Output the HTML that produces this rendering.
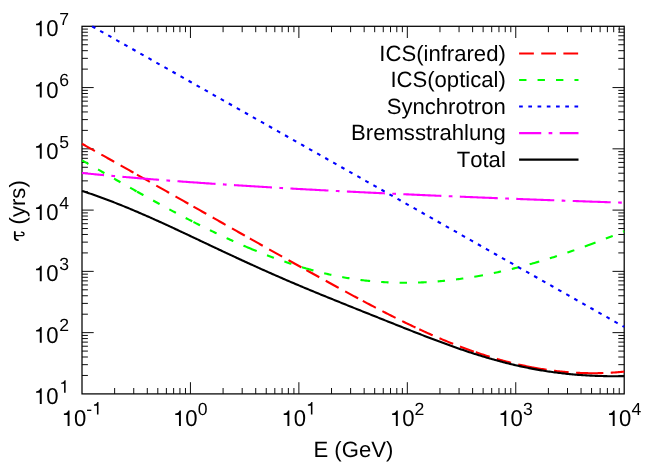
<!DOCTYPE html>
<html><head><meta charset="utf-8"><title>Cooling time</title>
<style>
html,body{margin:0;padding:0;background:#fff;overflow:hidden}
svg{display:block}
.t{filter:grayscale(1)}
.t,.t text{font-family:"Liberation Sans",sans-serif;font-kerning:none;font-variant-ligatures:none;text-rendering:geometricPrecision}
</style>
</head><body>
<svg width="664" height="465" viewBox="0 0 664 465">
<defs><path id="one" d="M359,0 H271 V-505 H102 V-568 C205,-574 268,-612 301,-709 H359 Z"/></defs>
<rect width="664" height="465" fill="#fff"/>
<path d="M114.64,393.90 v-5.90 M114.64,26.30 v5.90 M133.74,393.90 v-5.90 M133.74,26.30 v5.90 M147.29,393.90 v-5.90 M147.29,26.30 v5.90 M157.80,393.90 v-5.90 M157.80,26.30 v5.90 M166.38,393.90 v-5.90 M166.38,26.30 v5.90 M173.64,393.90 v-5.90 M173.64,26.30 v5.90 M179.93,393.90 v-5.90 M179.93,26.30 v5.90 M185.48,393.90 v-5.90 M185.48,26.30 v5.90 M190.44,393.90 v-11.70 M190.44,26.30 v11.70 M223.08,393.90 v-5.90 M223.08,26.30 v5.90 M242.18,393.90 v-5.90 M242.18,26.30 v5.90 M255.73,393.90 v-5.90 M255.73,26.30 v5.90 M266.24,393.90 v-5.90 M266.24,26.30 v5.90 M274.82,393.90 v-5.90 M274.82,26.30 v5.90 M282.08,393.90 v-5.90 M282.08,26.30 v5.90 M288.37,393.90 v-5.90 M288.37,26.30 v5.90 M293.92,393.90 v-5.90 M293.92,26.30 v5.90 M298.88,393.90 v-11.70 M298.88,26.30 v11.70 M331.52,393.90 v-5.90 M331.52,26.30 v5.90 M350.62,393.90 v-5.90 M350.62,26.30 v5.90 M364.17,393.90 v-5.90 M364.17,26.30 v5.90 M374.68,393.90 v-5.90 M374.68,26.30 v5.90 M383.26,393.90 v-5.90 M383.26,26.30 v5.90 M390.52,393.90 v-5.90 M390.52,26.30 v5.90 M396.81,393.90 v-5.90 M396.81,26.30 v5.90 M402.36,393.90 v-5.90 M402.36,26.30 v5.90 M407.32,393.90 v-11.70 M407.32,26.30 v11.70 M439.96,393.90 v-5.90 M439.96,26.30 v5.90 M459.06,393.90 v-5.90 M459.06,26.30 v5.90 M472.61,393.90 v-5.90 M472.61,26.30 v5.90 M483.12,393.90 v-5.90 M483.12,26.30 v5.90 M491.70,393.90 v-5.90 M491.70,26.30 v5.90 M498.96,393.90 v-5.90 M498.96,26.30 v5.90 M505.25,393.90 v-5.90 M505.25,26.30 v5.90 M510.80,393.90 v-5.90 M510.80,26.30 v5.90 M515.76,393.90 v-11.70 M515.76,26.30 v11.70 M548.40,393.90 v-5.90 M548.40,26.30 v5.90 M567.50,393.90 v-5.90 M567.50,26.30 v5.90 M581.05,393.90 v-5.90 M581.05,26.30 v5.90 M591.56,393.90 v-5.90 M591.56,26.30 v5.90 M600.14,393.90 v-5.90 M600.14,26.30 v5.90 M607.40,393.90 v-5.90 M607.40,26.30 v5.90 M613.69,393.90 v-5.90 M613.69,26.30 v5.90 M619.24,393.90 v-5.90 M619.24,26.30 v5.90 M82.00,375.46 h5.90 M624.20,375.46 h-5.90 M82.00,364.67 h5.90 M624.20,364.67 h-5.90 M82.00,357.01 h5.90 M624.20,357.01 h-5.90 M82.00,351.08 h5.90 M624.20,351.08 h-5.90 M82.00,346.23 h5.90 M624.20,346.23 h-5.90 M82.00,342.12 h5.90 M624.20,342.12 h-5.90 M82.00,338.57 h5.90 M624.20,338.57 h-5.90 M82.00,335.44 h5.90 M624.20,335.44 h-5.90 M82.00,332.63 h11.70 M624.20,332.63 h-11.70 M82.00,314.19 h5.90 M624.20,314.19 h-5.90 M82.00,303.40 h5.90 M624.20,303.40 h-5.90 M82.00,295.75 h5.90 M624.20,295.75 h-5.90 M82.00,289.81 h5.90 M624.20,289.81 h-5.90 M82.00,284.96 h5.90 M624.20,284.96 h-5.90 M82.00,280.86 h5.90 M624.20,280.86 h-5.90 M82.00,277.30 h5.90 M624.20,277.30 h-5.90 M82.00,274.17 h5.90 M624.20,274.17 h-5.90 M82.00,271.37 h11.70 M624.20,271.37 h-11.70 M82.00,252.92 h5.90 M624.20,252.92 h-5.90 M82.00,242.14 h5.90 M624.20,242.14 h-5.90 M82.00,234.48 h5.90 M624.20,234.48 h-5.90 M82.00,228.54 h5.90 M624.20,228.54 h-5.90 M82.00,223.69 h5.90 M624.20,223.69 h-5.90 M82.00,219.59 h5.90 M624.20,219.59 h-5.90 M82.00,216.04 h5.90 M624.20,216.04 h-5.90 M82.00,212.90 h5.90 M624.20,212.90 h-5.90 M82.00,210.10 h11.70 M624.20,210.10 h-11.70 M82.00,191.66 h5.90 M624.20,191.66 h-5.90 M82.00,180.87 h5.90 M624.20,180.87 h-5.90 M82.00,173.21 h5.90 M624.20,173.21 h-5.90 M82.00,167.28 h5.90 M624.20,167.28 h-5.90 M82.00,162.43 h5.90 M624.20,162.43 h-5.90 M82.00,158.32 h5.90 M624.20,158.32 h-5.90 M82.00,154.77 h5.90 M624.20,154.77 h-5.90 M82.00,151.64 h5.90 M624.20,151.64 h-5.90 M82.00,148.83 h11.70 M624.20,148.83 h-11.70 M82.00,130.39 h5.90 M624.20,130.39 h-5.90 M82.00,119.60 h5.90 M624.20,119.60 h-5.90 M82.00,111.95 h5.90 M624.20,111.95 h-5.90 M82.00,106.01 h5.90 M624.20,106.01 h-5.90 M82.00,101.16 h5.90 M624.20,101.16 h-5.90 M82.00,97.06 h5.90 M624.20,97.06 h-5.90 M82.00,93.50 h5.90 M624.20,93.50 h-5.90 M82.00,90.37 h5.90 M624.20,90.37 h-5.90 M82.00,87.57 h11.70 M624.20,87.57 h-11.70 M82.00,69.12 h5.90 M624.20,69.12 h-5.90 M82.00,58.34 h5.90 M624.20,58.34 h-5.90 M82.00,50.68 h5.90 M624.20,50.68 h-5.90 M82.00,44.74 h5.90 M624.20,44.74 h-5.90 M82.00,39.89 h5.90 M624.20,39.89 h-5.90 M82.00,35.79 h5.90 M624.20,35.79 h-5.90 M82.00,32.24 h5.90 M624.20,32.24 h-5.90 M82.00,29.10 h5.90 M624.20,29.10 h-5.90" fill="none" stroke="#000" stroke-width="0.95"/>
<rect x="82.00" y="26.30" width="542.20" height="367.60" fill="none" stroke="#000" stroke-width="1.25"/>
<g fill="none" stroke-width="2.1" stroke-linejoin="round">
<path d="M82.00,143.78 L83.36,144.53 L84.72,145.29 L86.08,146.05 L87.44,146.81 L88.79,147.57 L90.15,148.33 L91.51,149.08 L92.87,149.84 L94.23,150.60 L95.59,151.36 L96.95,152.12 L98.31,152.88 L99.67,153.65 L101.02,154.41 L102.38,155.17 L103.74,155.93 L105.10,156.69 L106.46,157.46 L107.82,158.22 L109.18,158.98 L110.54,159.74 L111.90,160.51 L113.25,161.27 L114.61,162.03 L115.97,162.80 L117.33,163.56 L118.69,164.33 L120.05,165.09 L121.41,165.86 L122.77,166.62 L124.13,167.39 L125.48,168.15 L126.84,168.92 L128.20,169.69 L129.56,170.45 L130.92,171.22 L132.28,171.99 L133.64,172.75 L135.00,173.52 L136.36,174.29 L137.00,174.65 M137.00,174.65 L137.71,175.05 L139.07,175.82 L140.43,176.59 L141.79,177.36 L143.15,178.12 L144.51,178.89 L145.87,179.66 L147.23,180.43 L148.59,181.20 L149.94,181.97 L151.30,182.73 L152.66,183.50 L154.02,184.27 L155.38,185.04 L156.74,185.81 L158.10,186.58 L159.46,187.35 L160.82,188.12 L162.17,188.89 L163.53,189.66 L164.89,190.43 L166.25,191.20 L167.61,191.97 L168.97,192.74 L170.33,193.51 L171.69,194.28 L173.05,195.05 L174.41,195.82 L175.76,196.59 L177.12,197.36 L178.48,198.13 L179.84,198.90 L181.20,199.67 L182.56,200.44 L183.92,201.21 L185.28,201.98 L186.64,202.75 L187.99,203.52 L189.35,204.29 L190.71,205.06 L192.07,205.83 L193.43,206.60 L193.45,206.61 M193.45,206.61 L194.79,207.37 L196.15,208.14 L197.51,208.91 L198.87,209.68 L200.22,210.45 L201.58,211.22 L202.94,211.99 L204.30,212.76 L205.66,213.53 L207.02,214.30 L208.38,215.07 L209.74,215.84 L211.10,216.61 L212.45,217.38 L213.81,218.15 L215.17,218.92 L216.53,219.68 L217.89,220.45 L219.25,221.22 L220.61,221.99 L221.97,222.76 L223.33,223.53 L224.68,224.30 L226.04,225.07 L227.40,225.83 L228.76,226.60 L230.12,227.37 L231.48,228.14 L232.84,228.91 L234.20,229.67 L235.56,230.44 L236.91,231.21 L238.27,231.98 L239.63,232.74 L240.99,233.51 L242.35,234.28 L243.71,235.04 L245.07,235.81 L246.43,236.57 L247.79,237.34 L249.14,238.11 L249.90,238.53 M249.90,238.53 L250.50,238.87 L251.86,239.64 L253.22,240.40 L254.58,241.17 L255.94,241.93 L257.30,242.69 L258.66,243.46 L260.02,244.22 L261.37,244.99 L262.73,245.75 L264.09,246.51 L265.45,247.27 L266.81,248.04 L268.17,248.80 L269.53,249.56 L270.89,250.32 L272.25,251.08 L273.60,251.85 L274.96,252.61 L276.32,253.37 L277.68,254.13 L279.04,254.89 L280.40,255.65 L281.76,256.41 L283.12,257.17 L284.48,257.92 L285.83,258.68 L287.19,259.44 L288.55,260.20 L289.91,260.96 L291.27,261.71 L292.63,262.47 L293.99,263.23 L295.35,263.98 L296.71,264.74 L298.06,265.49 L299.42,266.25 L300.78,267.00 L302.14,267.76 L303.50,268.51 L304.86,269.26 L306.22,270.02 L306.35,270.09 M306.35,270.09 L307.58,270.77 L308.94,271.52 L310.29,272.27 L311.65,273.03 L313.01,273.78 L314.37,274.53 L315.73,275.28 L317.09,276.03 L318.45,276.78 L319.81,277.53 L321.17,278.27 L322.52,279.02 L323.88,279.77 L325.24,280.52 L326.60,281.26 L327.96,282.01 L329.32,282.76 L330.68,283.50 L332.04,284.25 L333.40,284.99 L334.75,285.73 L336.11,286.48 L337.47,287.22 L338.83,287.96 L340.19,288.70 L341.55,289.44 L342.91,290.18 L344.27,290.92 L345.63,291.66 L346.98,292.40 L348.34,293.13 L349.70,293.87 L351.06,294.60 L352.42,295.34 L353.78,296.07 L355.14,296.80 L356.50,297.53 L357.86,298.26 L359.22,298.99 L360.57,299.71 L361.93,300.44 L362.80,300.90 M362.80,300.90 L363.29,301.16 L364.65,301.89 L366.01,302.61 L367.37,303.33 L368.73,304.04 L370.09,304.76 L371.45,305.47 L372.80,306.19 L374.16,306.90 L375.52,307.61 L376.88,308.31 L378.24,309.02 L379.60,309.72 L380.96,310.43 L382.32,311.13 L383.68,311.82 L385.03,312.52 L386.39,313.21 L387.75,313.91 L389.11,314.60 L390.47,315.28 L391.83,315.97 L393.19,316.65 L394.55,317.33 L395.91,318.01 L397.26,318.69 L398.62,319.36 L399.98,320.03 L401.34,320.70 L402.70,321.36 L404.06,322.03 L405.42,322.69 L406.78,323.35 L408.14,324.00 L409.49,324.65 L410.85,325.30 L412.21,325.95 L413.57,326.59 L414.93,327.23 L416.29,327.87 L417.65,328.51 L419.01,329.14 L419.25,329.25 M419.25,329.25 L420.37,329.77 L421.72,330.39 L423.08,331.01 L424.44,331.63 L425.80,332.25 L427.16,332.86 L428.52,333.47 L429.88,334.08 L431.24,334.68 L432.60,335.28 L433.95,335.87 L435.31,336.46 L436.67,337.05 L438.03,337.64 L439.39,338.22 L440.75,338.79 L442.11,339.37 L443.47,339.94 L444.83,340.50 L446.18,341.06 L447.54,341.62 L448.90,342.18 L450.26,342.73 L451.62,343.27 L452.98,343.81 L454.34,344.35 L455.70,344.88 L457.06,345.41 L458.41,345.94 L459.77,346.46 L461.13,346.97 L462.49,347.49 L463.85,347.99 L465.21,348.50 L466.57,348.99 L467.93,349.49 L469.29,349.98 L470.64,350.46 L472.00,350.94 L473.36,351.42 L474.72,351.89 L475.70,352.22 M475.70,352.22 L476.08,352.35 L477.44,352.82 L478.80,353.27 L480.16,353.72 L481.52,354.17 L482.87,354.61 L484.23,355.05 L485.59,355.48 L486.95,355.91 L488.31,356.34 L489.67,356.75 L491.03,357.17 L492.39,357.58 L493.75,357.98 L495.10,358.38 L496.46,358.77 L497.82,359.16 L499.18,359.55 L500.54,359.93 L501.90,360.30 L503.26,360.67 L504.62,361.04 L505.98,361.40 L507.33,361.75 L508.69,362.10 L510.05,362.44 L511.41,362.78 L512.77,363.12 L514.13,363.45 L515.49,363.77 L516.85,364.09 L518.21,364.40 L519.56,364.71 L520.92,365.01 L522.28,365.31 L523.64,365.60 L525.00,365.89 L526.36,366.17 L527.72,366.45 L529.08,366.72 L530.44,366.99 L531.79,367.25 L532.15,367.32 M532.15,367.32 L533.15,367.50 L534.51,367.75 L535.87,368.00 L537.23,368.24 L538.59,368.47 L539.95,368.70 L541.31,368.92 L542.67,369.14 L544.03,369.35 L545.38,369.56 L546.74,369.76 L548.10,369.96 L549.46,370.15 L550.82,370.33 L552.18,370.51 L553.54,370.69 L554.90,370.85 L556.26,371.02 L557.61,371.17 L558.97,371.32 L560.33,371.47 L561.69,371.61 L563.05,371.74 L564.41,371.87 L565.77,371.99 L567.13,372.11 L568.49,372.22 L569.84,372.33 L571.20,372.42 L572.56,372.52 L573.92,372.61 L575.28,372.69 L576.64,372.76 L578.00,372.83 L579.36,372.90 L580.72,372.96 L582.07,373.01 L583.43,373.05 L584.79,373.09 L586.15,373.13 L587.51,373.16 L588.60,373.18 M588.60,373.18 L588.87,373.18 L590.23,373.20 L591.59,373.21 L592.95,373.21 L594.30,373.21 L595.66,373.20 L597.02,373.19 L598.38,373.17 L599.74,373.14 L601.10,373.11 L602.46,373.07 L603.82,373.02 L605.18,372.97 L606.53,372.92 L607.89,372.85 L609.25,372.78 L610.61,372.71 L611.97,372.62 L613.33,372.54 L614.69,372.44 L616.05,372.34 L617.41,372.23 L618.76,372.12 L620.12,372.00 L621.48,371.87 L622.84,371.74 L624.20,371.60" stroke="#ff0000" stroke-dasharray="14.76,7.38"/>
<path d="M82.00,160.33 L83.36,161.11 L84.72,161.88 L86.08,162.66 L87.44,163.44 L88.79,164.21 L90.15,164.99 L91.51,165.76 L92.87,166.54 L94.23,167.32 L95.59,168.09 L96.95,168.87 L98.31,169.65 L99.67,170.42 L101.02,171.20 L102.38,171.98 L103.74,172.75 L105.10,173.53 L106.46,174.30 L107.82,175.08 L109.18,175.85 L110.54,176.63 L111.90,177.40 L113.25,178.17 L114.61,178.95 L115.97,179.72 L117.33,180.49 L118.69,181.26 L120.05,182.03 L121.41,182.80 L122.77,183.57 L124.13,184.34 L125.48,185.11 L126.84,185.88 L128.20,186.65 L129.56,187.41 L130.92,188.18 L132.28,188.94 L133.64,189.70 L135.00,190.47 L136.36,191.23 L137.00,191.59 M137.00,191.59 L137.71,191.99 L139.07,192.75 L140.43,193.51 L141.79,194.26 L143.15,195.02 L144.51,195.78 L145.87,196.53 L147.23,197.28 L148.59,198.03 L149.94,198.79 L151.30,199.53 L152.66,200.28 L154.02,201.03 L155.38,201.77 L156.74,202.52 L158.10,203.26 L159.46,204.00 L160.82,204.74 L162.17,205.48 L163.53,206.21 L164.89,206.95 L166.25,207.68 L167.61,208.41 L168.97,209.14 L170.33,209.87 L171.69,210.59 L173.05,211.32 L174.41,212.04 L175.76,212.76 L177.12,213.48 L178.48,214.19 L179.84,214.91 L181.20,215.62 L182.56,216.33 L183.92,217.04 L185.28,217.75 L186.64,218.45 L187.99,219.15 L189.35,219.85 L190.71,220.55 L192.07,221.25 L193.43,221.94 L193.45,221.95 M193.45,221.95 L194.79,222.63 L196.15,223.32 L197.51,224.01 L198.87,224.69 L200.22,225.37 L201.58,226.05 L202.94,226.73 L204.30,227.40 L205.66,228.07 L207.02,228.74 L208.38,229.41 L209.74,230.07 L211.10,230.73 L212.45,231.39 L213.81,232.05 L215.17,232.70 L216.53,233.35 L217.89,233.99 L219.25,234.64 L220.61,235.28 L221.97,235.92 L223.33,236.55 L224.68,237.19 L226.04,237.82 L227.40,238.44 L228.76,239.07 L230.12,239.69 L231.48,240.30 L232.84,240.92 L234.20,241.53 L235.56,242.13 L236.91,242.74 L238.27,243.34 L239.63,243.94 L240.99,244.53 L242.35,245.12 L243.71,245.71 L245.07,246.29 L246.43,246.87 L247.79,247.45 L249.14,248.02 L249.90,248.34 M249.90,248.34 L250.50,248.59 L251.86,249.16 L253.22,249.72 L254.58,250.28 L255.94,250.83 L257.30,251.39 L258.66,251.93 L260.02,252.48 L261.37,253.02 L262.73,253.55 L264.09,254.08 L265.45,254.61 L266.81,255.14 L268.17,255.66 L269.53,256.17 L270.89,256.69 L272.25,257.19 L273.60,257.70 L274.96,258.20 L276.32,258.69 L277.68,259.18 L279.04,259.67 L280.40,260.15 L281.76,260.63 L283.12,261.11 L284.48,261.58 L285.83,262.04 L287.19,262.50 L288.55,262.96 L289.91,263.41 L291.27,263.86 L292.63,264.30 L293.99,264.74 L295.35,265.17 L296.71,265.60 L298.06,266.03 L299.42,266.45 L300.78,266.86 L302.14,267.27 L303.50,267.68 L304.86,268.08 L306.22,268.47 L306.35,268.51 M306.35,268.51 L307.58,268.86 L308.94,269.25 L310.29,269.63 L311.65,270.01 L313.01,270.38 L314.37,270.74 L315.73,271.10 L317.09,271.46 L318.45,271.81 L319.81,272.15 L321.17,272.49 L322.52,272.83 L323.88,273.16 L325.24,273.48 L326.60,273.80 L327.96,274.12 L329.32,274.42 L330.68,274.73 L332.04,275.02 L333.40,275.31 L334.75,275.60 L336.11,275.88 L337.47,276.16 L338.83,276.43 L340.19,276.69 L341.55,276.95 L342.91,277.20 L344.27,277.45 L345.63,277.69 L346.98,277.92 L348.34,278.15 L349.70,278.37 L351.06,278.59 L352.42,278.80 L353.78,279.01 L355.14,279.21 L356.50,279.40 L357.86,279.59 L359.22,279.78 L360.57,279.95 L361.93,280.13 L362.80,280.23 M362.80,280.23 L363.29,280.29 L364.65,280.45 L366.01,280.61 L367.37,280.76 L368.73,280.90 L370.09,281.04 L371.45,281.17 L372.80,281.30 L374.16,281.42 L375.52,281.54 L376.88,281.65 L378.24,281.76 L379.60,281.86 L380.96,281.95 L382.32,282.04 L383.68,282.13 L385.03,282.21 L386.39,282.28 L387.75,282.35 L389.11,282.41 L390.47,282.47 L391.83,282.52 L393.19,282.57 L394.55,282.61 L395.91,282.65 L397.26,282.68 L398.62,282.71 L399.98,282.73 L401.34,282.75 L402.70,282.76 L404.06,282.77 L405.42,282.77 L406.78,282.77 L408.14,282.76 L409.49,282.75 L410.85,282.73 L412.21,282.71 L413.57,282.68 L414.93,282.65 L416.29,282.61 L417.65,282.57 L419.01,282.52 L419.25,282.51 M419.25,282.51 L420.37,282.47 L421.72,282.41 L423.08,282.35 L424.44,282.28 L425.80,282.21 L427.16,282.14 L428.52,282.06 L429.88,281.97 L431.24,281.88 L432.60,281.79 L433.95,281.69 L435.31,281.59 L436.67,281.48 L438.03,281.37 L439.39,281.25 L440.75,281.13 L442.11,281.00 L443.47,280.87 L444.83,280.73 L446.18,280.60 L447.54,280.45 L448.90,280.30 L450.26,280.15 L451.62,279.99 L452.98,279.83 L454.34,279.67 L455.70,279.50 L457.06,279.32 L458.41,279.14 L459.77,278.96 L461.13,278.77 L462.49,278.58 L463.85,278.39 L465.21,278.19 L466.57,277.98 L467.93,277.77 L469.29,277.56 L470.64,277.34 L472.00,277.12 L473.36,276.90 L474.72,276.67 L475.70,276.50 M475.70,276.50 L476.08,276.44 L477.44,276.20 L478.80,275.96 L480.16,275.72 L481.52,275.47 L482.87,275.22 L484.23,274.96 L485.59,274.70 L486.95,274.44 L488.31,274.17 L489.67,273.90 L491.03,273.62 L492.39,273.34 L493.75,273.06 L495.10,272.77 L496.46,272.48 L497.82,272.19 L499.18,271.89 L500.54,271.59 L501.90,271.28 L503.26,270.97 L504.62,270.66 L505.98,270.35 L507.33,270.03 L508.69,269.70 L510.05,269.38 L511.41,269.05 L512.77,268.71 L514.13,268.37 L515.49,268.03 L516.85,267.69 L518.21,267.34 L519.56,266.99 L520.92,266.64 L522.28,266.28 L523.64,265.92 L525.00,265.55 L526.36,265.19 L527.72,264.81 L529.08,264.44 L530.44,264.06 L531.79,263.68 L532.15,263.58 M532.15,263.58 L533.15,263.30 L534.51,262.91 L535.87,262.52 L537.23,262.13 L538.59,261.73 L539.95,261.33 L541.31,260.93 L542.67,260.52 L544.03,260.11 L545.38,259.70 L546.74,259.28 L548.10,258.86 L549.46,258.44 L550.82,258.02 L552.18,257.59 L553.54,257.16 L554.90,256.73 L556.26,256.29 L557.61,255.85 L558.97,255.41 L560.33,254.97 L561.69,254.52 L563.05,254.07 L564.41,253.62 L565.77,253.16 L567.13,252.70 L568.49,252.24 L569.84,251.78 L571.20,251.31 L572.56,250.84 L573.92,250.37 L575.28,249.90 L576.64,249.42 L578.00,248.94 L579.36,248.46 L580.72,247.97 L582.07,247.49 L583.43,247.00 L584.79,246.50 L586.15,246.01 L587.51,245.51 L588.60,245.11 M588.60,245.11 L588.87,245.01 L590.23,244.51 L591.59,244.00 L592.95,243.50 L594.30,242.99 L595.66,242.48 L597.02,241.96 L598.38,241.45 L599.74,240.93 L601.10,240.41 L602.46,239.88 L603.82,239.36 L605.18,238.83 L606.53,238.30 L607.89,237.77 L609.25,237.24 L610.61,236.70 L611.97,236.16 L613.33,235.62 L614.69,235.08 L616.05,234.54 L617.41,233.99 L618.76,233.44 L620.12,232.89 L621.48,232.34 L622.84,231.78 L624.20,231.23" stroke="#00ff00" stroke-dasharray="7.38,11.07"/>
<path d="M92.13,26.30 L92.87,26.72 L94.23,27.49 L95.59,28.25 L96.95,29.02 L98.31,29.79 L99.67,30.56 L101.02,31.32 L102.38,32.09 L103.74,32.86 L105.10,33.63 L106.46,34.40 L107.82,35.16 L109.18,35.93 L110.54,36.70 L111.90,37.47 L113.25,38.23 L114.61,39.00 L115.97,39.77 L117.33,40.54 L118.69,41.31 L120.05,42.07 L121.41,42.84 L122.77,43.61 L124.13,44.38 L125.48,45.14 L126.84,45.91 L128.20,46.68 L129.56,47.45 L130.92,48.22 L132.28,48.98 L133.64,49.75 L135.00,50.52 L136.36,51.29 L137.71,52.05 L139.07,52.82 L140.43,53.59 L141.79,54.36 L143.15,55.13 L144.51,55.89 L145.87,56.66 L147.23,57.43 L148.59,58.20 L149.94,58.96 L151.30,59.73 L152.66,60.50 L154.02,61.27 L155.38,62.04 L156.74,62.80 L158.10,63.57 L159.46,64.34 L160.82,65.11 L162.17,65.87 L163.53,66.64 L164.89,67.41 L166.25,68.18 L167.61,68.94 L168.97,69.71 L170.33,70.48 L171.69,71.25 L173.05,72.02 L174.41,72.78 L175.76,73.55 L177.12,74.32 L178.48,75.09 L179.84,75.85 L181.20,76.62 L182.56,77.39 L183.92,78.16 L185.28,78.93 L186.64,79.69 L187.99,80.46 L189.35,81.23 L190.71,82.00 L192.07,82.76 L193.43,83.53 L194.79,84.30 L196.15,85.07 L197.51,85.84 L198.87,86.60 L200.22,87.37 L201.58,88.14 L202.94,88.91 L204.30,89.67 L205.66,90.44 L207.02,91.21 L208.38,91.98 L209.74,92.75 L211.10,93.51 L212.45,94.28 L213.81,95.05 L215.17,95.82 L216.53,96.58 L217.89,97.35 L219.25,98.12 L220.61,98.89 L221.97,99.65 L223.33,100.42 L224.68,101.19 L226.04,101.96 L227.40,102.73 L228.76,103.49 L230.12,104.26 L231.48,105.03 L232.84,105.80 L234.20,106.56 L235.56,107.33 L236.91,108.10 L238.27,108.87 L239.63,109.64 L240.99,110.40 L242.35,111.17 L243.71,111.94 L245.07,112.71 L246.43,113.47 L247.79,114.24 L249.14,115.01 L250.50,115.78 L251.86,116.55 L253.22,117.31 L254.58,118.08 L255.94,118.85 L257.30,119.62 L258.66,120.38 L260.02,121.15 L261.37,121.92 L262.73,122.69 L264.09,123.46 L265.45,124.22 L266.81,124.99 L268.17,125.76 L269.53,126.53 L270.89,127.29 L272.25,128.06 L273.60,128.83 L274.96,129.60 L276.32,130.37 L277.68,131.13 L279.04,131.90 L280.40,132.67 L281.76,133.44 L283.12,134.20 L284.48,134.97 L285.83,135.74 L287.19,136.51 L288.55,137.27 L289.91,138.04 L291.27,138.81 L292.63,139.58 L293.99,140.35 L295.35,141.11 L296.71,141.88 L298.06,142.65 L299.42,143.42 L300.78,144.18 L302.14,144.95 L303.50,145.72 L304.86,146.49 L306.22,147.26 L307.58,148.02 L308.94,148.79 L310.29,149.56 L311.65,150.33 L313.01,151.09 L314.37,151.86 L315.73,152.63 L317.09,153.40 L318.45,154.17 L319.81,154.93 L321.17,155.70 L322.52,156.47 L323.88,157.24 L325.24,158.00 L326.60,158.77 L327.96,159.54 L329.32,160.31 L330.68,161.08 L332.04,161.84 L333.40,162.61 L334.75,163.38 L336.11,164.15 L337.47,164.91 L338.83,165.68 L340.19,166.45 L341.55,167.22 L342.91,167.98 L344.27,168.75 L345.63,169.52 L346.98,170.29 L348.34,171.06 L349.70,171.82 L351.06,172.59 L352.42,173.36 L353.78,174.13 L355.14,174.89 L356.50,175.66 L357.86,176.43 L359.22,177.20 L360.57,177.97 L361.93,178.73 L363.29,179.50 L364.65,180.27 L366.01,181.04 L367.37,181.80 L368.73,182.57 L370.09,183.34 L371.45,184.11 L372.80,184.88 L374.16,185.64 L375.52,186.41 L376.88,187.18 L378.24,187.95 L379.60,188.71 L380.96,189.48 L382.32,190.25 L383.68,191.02 L385.03,191.79 L386.39,192.55 L387.75,193.32 L389.11,194.09 L390.47,194.86 L391.83,195.62 L393.19,196.39 L394.55,197.16 L395.91,197.93 L397.26,198.69 L398.62,199.46 L399.98,200.23 L401.34,201.00 L402.70,201.77 L404.06,202.53 L405.42,203.30 L406.78,204.07 L408.14,204.84 L409.49,205.60 L410.85,206.37 L412.21,207.14 L413.57,207.91 L414.93,208.68 L416.29,209.44 L417.65,210.21 L419.01,210.98 L420.37,211.75 L421.72,212.51 L423.08,213.28 L424.44,214.05 L425.80,214.82 L427.16,215.59 L428.52,216.35 L429.88,217.12 L431.24,217.89 L432.60,218.66 L433.95,219.42 L435.31,220.19 L436.67,220.96 L438.03,221.73 L439.39,222.50 L440.75,223.26 L442.11,224.03 L443.47,224.80 L444.83,225.57 L446.18,226.33 L447.54,227.10 L448.90,227.87 L450.26,228.64 L451.62,229.41 L452.98,230.17 L454.34,230.94 L455.70,231.71 L457.06,232.48 L458.41,233.24 L459.77,234.01 L461.13,234.78 L462.49,235.55 L463.85,236.31 L465.21,237.08 L466.57,237.85 L467.93,238.62 L469.29,239.39 L470.64,240.15 L472.00,240.92 L473.36,241.69 L474.72,242.46 L476.08,243.22 L477.44,243.99 L478.80,244.76 L480.16,245.53 L481.52,246.30 L482.87,247.06 L484.23,247.83 L485.59,248.60 L486.95,249.37 L488.31,250.13 L489.67,250.90 L491.03,251.67 L492.39,252.44 L493.75,253.21 L495.10,253.97 L496.46,254.74 L497.82,255.51 L499.18,256.28 L500.54,257.04 L501.90,257.81 L503.26,258.58 L504.62,259.35 L505.98,260.12 L507.33,260.88 L508.69,261.65 L510.05,262.42 L511.41,263.19 L512.77,263.95 L514.13,264.72 L515.49,265.49 L516.85,266.26 L518.21,267.02 L519.56,267.79 L520.92,268.56 L522.28,269.33 L523.64,270.10 L525.00,270.86 L526.36,271.63 L527.72,272.40 L529.08,273.17 L530.44,273.93 L531.79,274.70 L533.15,275.47 L534.51,276.24 L535.87,277.01 L537.23,277.77 L538.59,278.54 L539.95,279.31 L541.31,280.08 L542.67,280.84 L544.03,281.61 L545.38,282.38 L546.74,283.15 L548.10,283.92 L549.46,284.68 L550.82,285.45 L552.18,286.22 L553.54,286.99 L554.90,287.75 L556.26,288.52 L557.61,289.29 L558.97,290.06 L560.33,290.83 L561.69,291.59 L563.05,292.36 L564.41,293.13 L565.77,293.90 L567.13,294.66 L568.49,295.43 L569.84,296.20 L571.20,296.97 L572.56,297.74 L573.92,298.50 L575.28,299.27 L576.64,300.04 L578.00,300.81 L579.36,301.57 L580.72,302.34 L582.07,303.11 L583.43,303.88 L584.79,304.64 L586.15,305.41 L587.51,306.18 L588.87,306.95 L590.23,307.72 L591.59,308.48 L592.95,309.25 L594.30,310.02 L595.66,310.79 L597.02,311.55 L598.38,312.32 L599.74,313.09 L601.10,313.86 L602.46,314.63 L603.82,315.39 L605.18,316.16 L606.53,316.93 L607.89,317.70 L609.25,318.46 L610.61,319.23 L611.97,320.00 L613.33,320.77 L614.69,321.54 L616.05,322.30 L617.41,323.07 L618.76,323.84 L620.12,324.61 L621.48,325.37 L622.84,326.14 L624.20,326.91" stroke="#0000ff" stroke-dasharray="3.69,5.54"/>
<path d="M82.00,173.00 L83.36,173.14 L84.72,173.27 L86.08,173.41 L87.44,173.54 L88.79,173.68 L90.15,173.81 L91.51,173.94 L92.87,174.08 L94.23,174.21 L95.59,174.34 L96.95,174.47 L98.31,174.60 L99.67,174.73 L101.02,174.85 L102.38,174.98 L103.74,175.11 L105.10,175.23 L106.46,175.36 L107.82,175.49 L109.18,175.61 L110.54,175.73 L111.90,175.86 L113.25,175.98 L114.61,176.10 L115.97,176.22 L117.33,176.35 L118.69,176.47 L120.05,176.59 L121.41,176.71 L122.77,176.83 L124.13,176.94 L125.48,177.06 L126.84,177.18 L128.20,177.30 L129.56,177.41 L130.92,177.53 L132.28,177.64 L133.64,177.76 L135.00,177.87 L136.36,177.99 L137.00,178.04 M137.00,178.04 L137.71,178.10 L139.07,178.21 L140.43,178.33 L141.79,178.44 L143.15,178.55 L144.51,178.66 L145.87,178.77 L147.23,178.88 L148.59,178.99 L149.94,179.10 L151.30,179.21 L152.66,179.32 L154.02,179.43 L155.38,179.53 L156.74,179.64 L158.10,179.75 L159.46,179.85 L160.82,179.96 L162.17,180.06 L163.53,180.17 L164.89,180.27 L166.25,180.38 L167.61,180.48 L168.97,180.59 L170.33,180.69 L171.69,180.79 L173.05,180.89 L174.41,180.99 L175.76,181.10 L177.12,181.20 L178.48,181.30 L179.84,181.40 L181.20,181.50 L182.56,181.60 L183.92,181.70 L185.28,181.79 L186.64,181.89 L187.99,181.99 L189.35,182.09 L190.71,182.19 L192.07,182.28 L193.43,182.38 L193.45,182.38 M193.45,182.38 L194.79,182.48 L196.15,182.57 L197.51,182.67 L198.87,182.76 L200.22,182.86 L201.58,182.95 L202.94,183.05 L204.30,183.14 L205.66,183.23 L207.02,183.33 L208.38,183.42 L209.74,183.51 L211.10,183.60 L212.45,183.70 L213.81,183.79 L215.17,183.88 L216.53,183.97 L217.89,184.06 L219.25,184.15 L220.61,184.24 L221.97,184.33 L223.33,184.42 L224.68,184.51 L226.04,184.60 L227.40,184.69 L228.76,184.77 L230.12,184.86 L231.48,184.95 L232.84,185.04 L234.20,185.12 L235.56,185.21 L236.91,185.30 L238.27,185.38 L239.63,185.47 L240.99,185.56 L242.35,185.64 L243.71,185.73 L245.07,185.81 L246.43,185.90 L247.79,185.98 L249.14,186.06 L249.90,186.11 M249.90,186.11 L250.50,186.15 L251.86,186.23 L253.22,186.32 L254.58,186.40 L255.94,186.48 L257.30,186.56 L258.66,186.65 L260.02,186.73 L261.37,186.81 L262.73,186.89 L264.09,186.97 L265.45,187.05 L266.81,187.13 L268.17,187.21 L269.53,187.29 L270.89,187.37 L272.25,187.45 L273.60,187.53 L274.96,187.61 L276.32,187.69 L277.68,187.77 L279.04,187.85 L280.40,187.93 L281.76,188.01 L283.12,188.08 L284.48,188.16 L285.83,188.24 L287.19,188.32 L288.55,188.39 L289.91,188.47 L291.27,188.55 L292.63,188.62 L293.99,188.70 L295.35,188.78 L296.71,188.85 L298.06,188.93 L299.42,189.00 L300.78,189.08 L302.14,189.15 L303.50,189.23 L304.86,189.30 L306.22,189.37 L306.35,189.38 M306.35,189.38 L307.58,189.45 L308.94,189.52 L310.29,189.60 L311.65,189.67 L313.01,189.74 L314.37,189.82 L315.73,189.89 L317.09,189.96 L318.45,190.03 L319.81,190.11 L321.17,190.18 L322.52,190.25 L323.88,190.32 L325.24,190.39 L326.60,190.46 L327.96,190.53 L329.32,190.61 L330.68,190.68 L332.04,190.75 L333.40,190.82 L334.75,190.89 L336.11,190.96 L337.47,191.03 L338.83,191.10 L340.19,191.17 L341.55,191.24 L342.91,191.30 L344.27,191.37 L345.63,191.44 L346.98,191.51 L348.34,191.58 L349.70,191.65 L351.06,191.71 L352.42,191.78 L353.78,191.85 L355.14,191.92 L356.50,191.98 L357.86,192.05 L359.22,192.12 L360.57,192.19 L361.93,192.25 L362.80,192.29 M362.80,192.29 L363.29,192.32 L364.65,192.38 L366.01,192.45 L367.37,192.52 L368.73,192.58 L370.09,192.65 L371.45,192.71 L372.80,192.78 L374.16,192.84 L375.52,192.91 L376.88,192.97 L378.24,193.04 L379.60,193.10 L380.96,193.17 L382.32,193.23 L383.68,193.30 L385.03,193.36 L386.39,193.42 L387.75,193.49 L389.11,193.55 L390.47,193.61 L391.83,193.68 L393.19,193.74 L394.55,193.80 L395.91,193.86 L397.26,193.93 L398.62,193.99 L399.98,194.05 L401.34,194.11 L402.70,194.18 L404.06,194.24 L405.42,194.30 L406.78,194.36 L408.14,194.42 L409.49,194.48 L410.85,194.54 L412.21,194.61 L413.57,194.67 L414.93,194.73 L416.29,194.79 L417.65,194.85 L419.01,194.91 L419.25,194.92 M419.25,194.92 L420.37,194.97 L421.72,195.03 L423.08,195.09 L424.44,195.15 L425.80,195.21 L427.16,195.27 L428.52,195.33 L429.88,195.39 L431.24,195.44 L432.60,195.50 L433.95,195.56 L435.31,195.62 L436.67,195.68 L438.03,195.74 L439.39,195.80 L440.75,195.85 L442.11,195.91 L443.47,195.97 L444.83,196.03 L446.18,196.09 L447.54,196.14 L448.90,196.20 L450.26,196.26 L451.62,196.32 L452.98,196.37 L454.34,196.43 L455.70,196.49 L457.06,196.54 L458.41,196.60 L459.77,196.66 L461.13,196.71 L462.49,196.77 L463.85,196.82 L465.21,196.88 L466.57,196.94 L467.93,196.99 L469.29,197.05 L470.64,197.10 L472.00,197.16 L473.36,197.21 L474.72,197.27 L475.70,197.31 M475.70,197.31 L476.08,197.32 L477.44,197.38 L478.80,197.43 L480.16,197.49 L481.52,197.54 L482.87,197.60 L484.23,197.65 L485.59,197.71 L486.95,197.76 L488.31,197.81 L489.67,197.87 L491.03,197.92 L492.39,197.98 L493.75,198.03 L495.10,198.08 L496.46,198.14 L497.82,198.19 L499.18,198.24 L500.54,198.30 L501.90,198.35 L503.26,198.40 L504.62,198.45 L505.98,198.51 L507.33,198.56 L508.69,198.61 L510.05,198.66 L511.41,198.72 L512.77,198.77 L514.13,198.82 L515.49,198.87 L516.85,198.92 L518.21,198.98 L519.56,199.03 L520.92,199.08 L522.28,199.13 L523.64,199.18 L525.00,199.23 L526.36,199.28 L527.72,199.33 L529.08,199.39 L530.44,199.44 L531.79,199.49 L532.15,199.50 M532.15,199.50 L533.15,199.54 L534.51,199.59 L535.87,199.64 L537.23,199.69 L538.59,199.74 L539.95,199.79 L541.31,199.84 L542.67,199.89 L544.03,199.94 L545.38,199.99 L546.74,200.04 L548.10,200.09 L549.46,200.14 L550.82,200.19 L552.18,200.24 L553.54,200.29 L554.90,200.34 L556.26,200.38 L557.61,200.43 L558.97,200.48 L560.33,200.53 L561.69,200.58 L563.05,200.63 L564.41,200.68 L565.77,200.72 L567.13,200.77 L568.49,200.82 L569.84,200.87 L571.20,200.92 L572.56,200.97 L573.92,201.01 L575.28,201.06 L576.64,201.11 L578.00,201.16 L579.36,201.20 L580.72,201.25 L582.07,201.30 L583.43,201.35 L584.79,201.39 L586.15,201.44 L587.51,201.49 L588.60,201.53 M588.60,201.53 L588.87,201.53 L590.23,201.58 L591.59,201.63 L592.95,201.68 L594.30,201.72 L595.66,201.77 L597.02,201.81 L598.38,201.86 L599.74,201.91 L601.10,201.95 L602.46,202.00 L603.82,202.05 L605.18,202.09 L606.53,202.14 L607.89,202.18 L609.25,202.23 L610.61,202.28 L611.97,202.32 L613.33,202.37 L614.69,202.41 L616.05,202.46 L617.41,202.50 L618.76,202.55 L620.12,202.59 L621.48,202.64 L622.84,202.68 L624.20,202.73" stroke="#ff00ff" stroke-dasharray="22.14,7.38,3.69,7.38"/>
<path d="M82.00,190.88 L83.36,191.32 L84.72,191.78 L86.08,192.23 L87.44,192.69 L88.79,193.15 L90.15,193.62 L91.51,194.09 L92.87,194.56 L94.23,195.04 L95.59,195.52 L96.95,196.00 L98.31,196.49 L99.67,196.98 L101.02,197.47 L102.38,197.97 L103.74,198.47 L105.10,198.98 L106.46,199.49 L107.82,200.00 L109.18,200.51 L110.54,201.03 L111.90,201.55 L113.25,202.08 L114.61,202.61 L115.97,203.14 L117.33,203.68 L118.69,204.22 L120.05,204.76 L121.41,205.30 L122.77,205.85 L124.13,206.40 L125.48,206.96 L126.84,207.51 L128.20,208.08 L129.56,208.64 L130.92,209.21 L132.28,209.77 L133.64,210.35 L135.00,210.92 L136.36,211.50 L137.71,212.08 L139.07,212.66 L140.43,213.25 L141.79,213.84 L143.15,214.43 L144.51,215.02 L145.87,215.61 L147.23,216.21 L148.59,216.81 L149.94,217.41 L151.30,218.02 L152.66,218.62 L154.02,219.23 L155.38,219.84 L156.74,220.45 L158.10,221.07 L159.46,221.68 L160.82,222.30 L162.17,222.92 L163.53,223.54 L164.89,224.16 L166.25,224.78 L167.61,225.41 L168.97,226.04 L170.33,226.66 L171.69,227.29 L173.05,227.92 L174.41,228.55 L175.76,229.19 L177.12,229.82 L178.48,230.45 L179.84,231.09 L181.20,231.73 L182.56,232.36 L183.92,233.00 L185.28,233.64 L186.64,234.28 L187.99,234.92 L189.35,235.56 L190.71,236.20 L192.07,236.84 L193.43,237.48 L194.79,238.12 L196.15,238.77 L197.51,239.41 L198.87,240.05 L200.22,240.69 L201.58,241.34 L202.94,241.98 L204.30,242.62 L205.66,243.26 L207.02,243.91 L208.38,244.55 L209.74,245.19 L211.10,245.83 L212.45,246.48 L213.81,247.12 L215.17,247.76 L216.53,248.40 L217.89,249.04 L219.25,249.68 L220.61,250.32 L221.97,250.96 L223.33,251.59 L224.68,252.23 L226.04,252.87 L227.40,253.50 L228.76,254.14 L230.12,254.77 L231.48,255.41 L232.84,256.04 L234.20,256.67 L235.56,257.30 L236.91,257.93 L238.27,258.56 L239.63,259.19 L240.99,259.82 L242.35,260.44 L243.71,261.07 L245.07,261.69 L246.43,262.32 L247.79,262.94 L249.14,263.56 L250.50,264.18 L251.86,264.80 L253.22,265.41 L254.58,266.03 L255.94,266.65 L257.30,267.26 L258.66,267.87 L260.02,268.48 L261.37,269.09 L262.73,269.70 L264.09,270.31 L265.45,270.91 L266.81,271.52 L268.17,272.12 L269.53,272.72 L270.89,273.33 L272.25,273.92 L273.60,274.52 L274.96,275.12 L276.32,275.72 L277.68,276.31 L279.04,276.90 L280.40,277.49 L281.76,278.08 L283.12,278.67 L284.48,279.26 L285.83,279.85 L287.19,280.43 L288.55,281.01 L289.91,281.60 L291.27,282.18 L292.63,282.76 L293.99,283.33 L295.35,283.91 L296.71,284.49 L298.06,285.06 L299.42,285.64 L300.78,286.21 L302.14,286.78 L303.50,287.35 L304.86,287.92 L306.22,288.48 L307.58,289.05 L308.94,289.62 L310.29,290.18 L311.65,290.74 L313.01,291.31 L314.37,291.87 L315.73,292.43 L317.09,292.99 L318.45,293.55 L319.81,294.10 L321.17,294.66 L322.52,295.22 L323.88,295.77 L325.24,296.33 L326.60,296.88 L327.96,297.43 L329.32,297.99 L330.68,298.54 L332.04,299.09 L333.40,299.64 L334.75,300.19 L336.11,300.74 L337.47,301.29 L338.83,301.84 L340.19,302.39 L341.55,302.93 L342.91,303.48 L344.27,304.03 L345.63,304.57 L346.98,305.12 L348.34,305.67 L349.70,306.21 L351.06,306.76 L352.42,307.30 L353.78,307.85 L355.14,308.39 L356.50,308.94 L357.86,309.48 L359.22,310.02 L360.57,310.57 L361.93,311.11 L363.29,311.66 L364.65,312.20 L366.01,312.74 L367.37,313.29 L368.73,313.83 L370.09,314.37 L371.45,314.92 L372.80,315.46 L374.16,316.00 L375.52,316.55 L376.88,317.09 L378.24,317.63 L379.60,318.18 L380.96,318.72 L382.32,319.26 L383.68,319.81 L385.03,320.35 L386.39,320.89 L387.75,321.43 L389.11,321.98 L390.47,322.52 L391.83,323.06 L393.19,323.60 L394.55,324.14 L395.91,324.69 L397.26,325.23 L398.62,325.77 L399.98,326.31 L401.34,326.85 L402.70,327.39 L404.06,327.92 L405.42,328.46 L406.78,329.00 L408.14,329.54 L409.49,330.07 L410.85,330.61 L412.21,331.14 L413.57,331.68 L414.93,332.21 L416.29,332.74 L417.65,333.27 L419.01,333.80 L420.37,334.33 L421.72,334.86 L423.08,335.39 L424.44,335.91 L425.80,336.44 L427.16,336.96 L428.52,337.48 L429.88,338.00 L431.24,338.52 L432.60,339.03 L433.95,339.55 L435.31,340.06 L436.67,340.57 L438.03,341.08 L439.39,341.59 L440.75,342.10 L442.11,342.60 L443.47,343.10 L444.83,343.60 L446.18,344.10 L447.54,344.59 L448.90,345.08 L450.26,345.57 L451.62,346.06 L452.98,346.55 L454.34,347.03 L455.70,347.51 L457.06,347.98 L458.41,348.46 L459.77,348.93 L461.13,349.40 L462.49,349.86 L463.85,350.32 L465.21,350.78 L466.57,351.24 L467.93,351.69 L469.29,352.14 L470.64,352.58 L472.00,353.03 L473.36,353.46 L474.72,353.90 L476.08,354.33 L477.44,354.76 L478.80,355.18 L480.16,355.61 L481.52,356.02 L482.87,356.44 L484.23,356.85 L485.59,357.25 L486.95,357.65 L488.31,358.05 L489.67,358.45 L491.03,358.84 L492.39,359.23 L493.75,359.61 L495.10,359.99 L496.46,360.36 L497.82,360.73 L499.18,361.10 L500.54,361.46 L501.90,361.82 L503.26,362.18 L504.62,362.53 L505.98,362.87 L507.33,363.21 L508.69,363.55 L510.05,363.89 L511.41,364.21 L512.77,364.54 L514.13,364.86 L515.49,365.18 L516.85,365.49 L518.21,365.80 L519.56,366.10 L520.92,366.40 L522.28,366.69 L523.64,366.98 L525.00,367.27 L526.36,367.55 L527.72,367.82 L529.08,368.10 L530.44,368.36 L531.79,368.62 L533.15,368.88 L534.51,369.14 L535.87,369.39 L537.23,369.63 L538.59,369.87 L539.95,370.11 L541.31,370.34 L542.67,370.56 L544.03,370.78 L545.38,371.00 L546.74,371.21 L548.10,371.42 L549.46,371.62 L550.82,371.82 L552.18,372.01 L553.54,372.20 L554.90,372.39 L556.26,372.57 L557.61,372.74 L558.97,372.91 L560.33,373.08 L561.69,373.24 L563.05,373.40 L564.41,373.55 L565.77,373.70 L567.13,373.84 L568.49,373.98 L569.84,374.12 L571.20,374.24 L572.56,374.37 L573.92,374.49 L575.28,374.61 L576.64,374.72 L578.00,374.83 L579.36,374.93 L580.72,375.03 L582.07,375.13 L583.43,375.22 L584.79,375.30 L586.15,375.38 L587.51,375.46 L588.87,375.54 L590.23,375.61 L591.59,375.67 L592.95,375.74 L594.30,375.80 L595.66,375.85 L597.02,375.90 L598.38,375.95 L599.74,375.99 L601.10,376.04 L602.46,376.07 L603.82,376.11 L605.18,376.14 L606.53,376.17 L607.89,376.19 L609.25,376.21 L610.61,376.23 L611.97,376.25 L613.33,376.26 L614.69,376.28 L616.05,376.29 L617.41,376.29 L618.76,376.30 L620.12,376.30 L621.48,376.30 L622.84,376.30 L624.20,376.30" stroke="#000000"/>
<path d="M519.1,53.50 L578.5,53.50" stroke="#ff0000" stroke-dasharray="14.76,7.38"/>
<path d="M519.1,80.03 L578.5,80.03" stroke="#00ff00" stroke-dasharray="7.38,11.07"/>
<path d="M519.1,106.56 L578.5,106.56" stroke="#0000ff" stroke-dasharray="3.69,5.54"/>
<path d="M519.1,133.09 L578.5,133.09" stroke="#ff00ff" stroke-dasharray="22.14,7.38,3.69,7.38"/>
<path d="M519.1,159.62 L578.5,159.62" stroke="#000000"/>
</g>
<g class="t" font-size="22.1px" fill="#000">
<use href="#one" transform="translate(33.83,403.90) scale(0.0220)"/>
<text transform="translate(46.36,404.00) scale(1,1.040)">0</text>
<use href="#one" transform="translate(59.30,392.70) scale(0.0176)"/>
<use href="#one" transform="translate(33.83,342.63) scale(0.0220)"/>
<text transform="translate(46.36,342.73) scale(1,1.040)">0</text>
<text x="59.30" y="331.43" font-size="17.6px">2</text>
<use href="#one" transform="translate(33.83,281.37) scale(0.0220)"/>
<text transform="translate(46.36,281.47) scale(1,1.040)">0</text>
<text x="59.30" y="270.17" font-size="17.6px">3</text>
<use href="#one" transform="translate(33.83,220.10) scale(0.0220)"/>
<text transform="translate(46.36,220.20) scale(1,1.040)">0</text>
<text x="59.30" y="208.90" font-size="17.6px">4</text>
<use href="#one" transform="translate(33.83,158.83) scale(0.0220)"/>
<text transform="translate(46.36,158.93) scale(1,1.040)">0</text>
<text x="59.30" y="147.63" font-size="17.6px">5</text>
<use href="#one" transform="translate(33.83,97.57) scale(0.0220)"/>
<text transform="translate(46.36,97.67) scale(1,1.040)">0</text>
<text x="59.30" y="86.37" font-size="17.6px">6</text>
<use href="#one" transform="translate(33.83,36.30) scale(0.0220)"/>
<text transform="translate(46.36,36.40) scale(1,1.040)">0</text>
<text x="59.30" y="25.10" font-size="17.6px">7</text>
<use href="#one" transform="translate(61.64,426.10) scale(0.0220)"/>
<text transform="translate(73.88,426.20) scale(1,1.040)">0</text>
<text x="86.31" y="414.60" font-size="17.6px">-</text>
<use href="#one" transform="translate(92.17,414.60) scale(0.0176)"/>
<use href="#one" transform="translate(173.01,426.10) scale(0.0220)"/>
<text transform="translate(185.25,426.20) scale(1,1.040)">0</text>
<text x="197.68" y="414.60" font-size="17.6px">0</text>
<use href="#one" transform="translate(281.45,426.10) scale(0.0220)"/>
<text transform="translate(293.69,426.20) scale(1,1.040)">0</text>
<use href="#one" transform="translate(306.12,414.60) scale(0.0176)"/>
<use href="#one" transform="translate(389.89,426.10) scale(0.0220)"/>
<text transform="translate(402.13,426.20) scale(1,1.040)">0</text>
<text x="414.56" y="414.60" font-size="17.6px">2</text>
<use href="#one" transform="translate(498.33,426.10) scale(0.0220)"/>
<text transform="translate(510.57,426.20) scale(1,1.040)">0</text>
<text x="523.00" y="414.60" font-size="17.6px">3</text>
<use href="#one" transform="translate(606.77,426.10) scale(0.0220)"/>
<text transform="translate(619.01,426.20) scale(1,1.040)">0</text>
<text x="631.44" y="414.60" font-size="17.6px">4</text>
<text x="353.4" y="456.9" text-anchor="middle">E (GeV)</text>
<g transform="translate(24.8,210.3) rotate(-90)">
<g transform="translate(-30.2,0)" fill="none" stroke="#000" stroke-linecap="round" stroke-linejoin="round"><path d="M0.4,-6.9 C0.5,-8.9 1.3,-9.95 3.0,-9.95 H8.5" stroke-width="1.85"/><path d="M4.8,-9.95 V-3.0 C4.8,-0.2 7.8,0.2 8.3,-3.4" stroke-width="1.3"/></g>
<text x="-14.13" y="0">(yrs)</text>
</g>
<text x="505.8" y="60.80" text-anchor="end">ICS(infrared)</text>
<text x="505.8" y="87.33" text-anchor="end">ICS(optical)</text>
<text x="505.8" y="113.86" text-anchor="end">Synchrotron</text>
<text x="505.8" y="140.39" text-anchor="end">Bremsstrahlung</text>
<text x="505.8" y="166.92" text-anchor="end">Total</text>
</g>
</svg>
</body></html>
